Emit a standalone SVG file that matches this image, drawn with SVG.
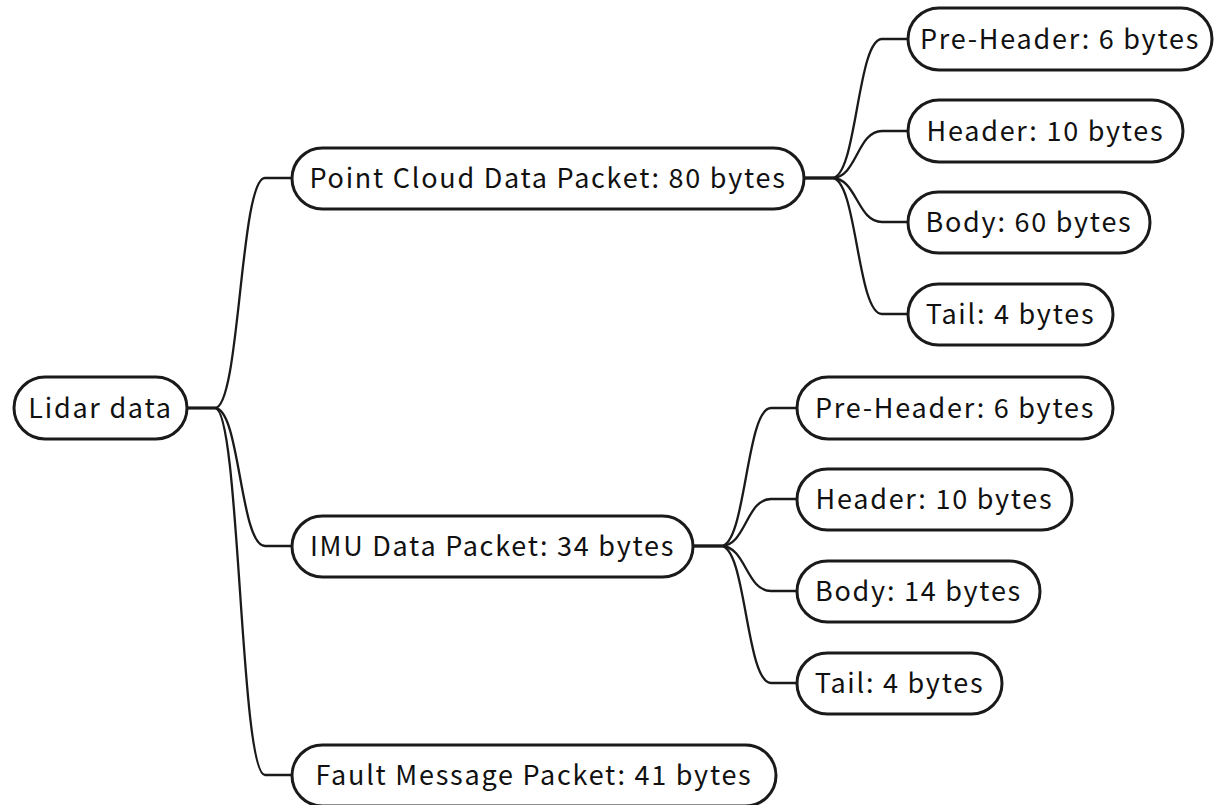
<svg xmlns="http://www.w3.org/2000/svg" width="1214" height="805" viewBox="0 0 1214 805">
<style>
.box{fill:#ffffff;stroke:#1a1a1a;stroke-width:3}
.lbl{font-family:"Noto Sans CJK SC","Source Sans Pro","Noto Sans",sans-serif;font-size:27px;letter-spacing:1.75px;fill:#111111;text-anchor:middle;dominant-baseline:central}
.edge{fill:none;stroke:#1a1a1a;stroke-width:2.3}
</style>
<rect width="1214" height="805" fill="#ffffff"/>
<g id="connectors">
<path class="edge" d="M187,408 H215 C240,408 240,178 265,178 H292"/>
<path class="edge" d="M187,408 H215 C240,408 240,546 265,546 H292"/>
<path class="edge" d="M187,408 H215 C240,408 240,775 265,775 H292"/>
<path class="edge" d="M804,178 H832 C857,178 857,39 882,39 H908"/>
<path class="edge" d="M804,178 H832 C857,178 857,131 882,131 H908"/>
<path class="edge" d="M804,178 H832 C857,178 857,222 882,222 H908"/>
<path class="edge" d="M804,178 H832 C857,178 857,314 882,314 H908"/>
<path class="edge" d="M693,546 H721 C746,546 746,408 771,408 H797"/>
<path class="edge" d="M693,546 H721 C746,546 746,499 771,499 H797"/>
<path class="edge" d="M693,546 H721 C746,546 746,591 771,591 H797"/>
<path class="edge" d="M693,546 H721 C746,546 746,683 771,683 H797"/>
</g>
<g id="lidar"><rect class="box" x="14" y="377" width="173" height="62" rx="31"/><text class="lbl" x="100.5" y="406">Lidar data</text></g>
<g id="pointcloud"><rect class="box" x="292" y="148" width="512" height="61" rx="30.5"/><text class="lbl" x="548" y="176">Point Cloud Data Packet: 80 bytes</text></g>
<g id="pc-preheader"><rect class="box" x="908" y="8" width="304" height="62" rx="31"/><text class="lbl" x="1060" y="37">Pre-Header: 6 bytes</text></g>
<g id="pc-header"><rect class="box" x="908" y="100" width="275" height="62" rx="31"/><text class="lbl" x="1045.5" y="129">Header: 10 bytes</text></g>
<g id="pc-body"><rect class="box" x="908" y="192" width="242" height="61" rx="30.5"/><text class="lbl" x="1029" y="220">Body: 60 bytes</text></g>
<g id="pc-tail"><rect class="box" x="908" y="284" width="205" height="61" rx="30.5"/><text class="lbl" x="1010.5" y="312">Tail: 4 bytes</text></g>
<g id="imu"><rect class="box" x="292" y="516" width="401" height="61" rx="30.5"/><text class="lbl" x="492.5" y="544">IMU Data Packet: 34 bytes</text></g>
<g id="imu-preheader"><rect class="box" x="797" y="377" width="316" height="62" rx="31"/><text class="lbl" x="955" y="406">Pre-Header: 6 bytes</text></g>
<g id="imu-header"><rect class="box" x="797" y="469" width="275" height="61" rx="30.5"/><text class="lbl" x="934.5" y="497">Header: 10 bytes</text></g>
<g id="imu-body"><rect class="box" x="797" y="561" width="243" height="61" rx="30.5"/><text class="lbl" x="918.5" y="589">Body: 14 bytes</text></g>
<g id="imu-tail"><rect class="box" x="797" y="653" width="205" height="61" rx="30.5"/><text class="lbl" x="899.5" y="681">Tail: 4 bytes</text></g>
<g id="fault"><rect class="box" x="292" y="745" width="484" height="61" rx="30.5"/><text class="lbl" x="534" y="773">Fault Message Packet: 41 bytes</text></g>
</svg>
